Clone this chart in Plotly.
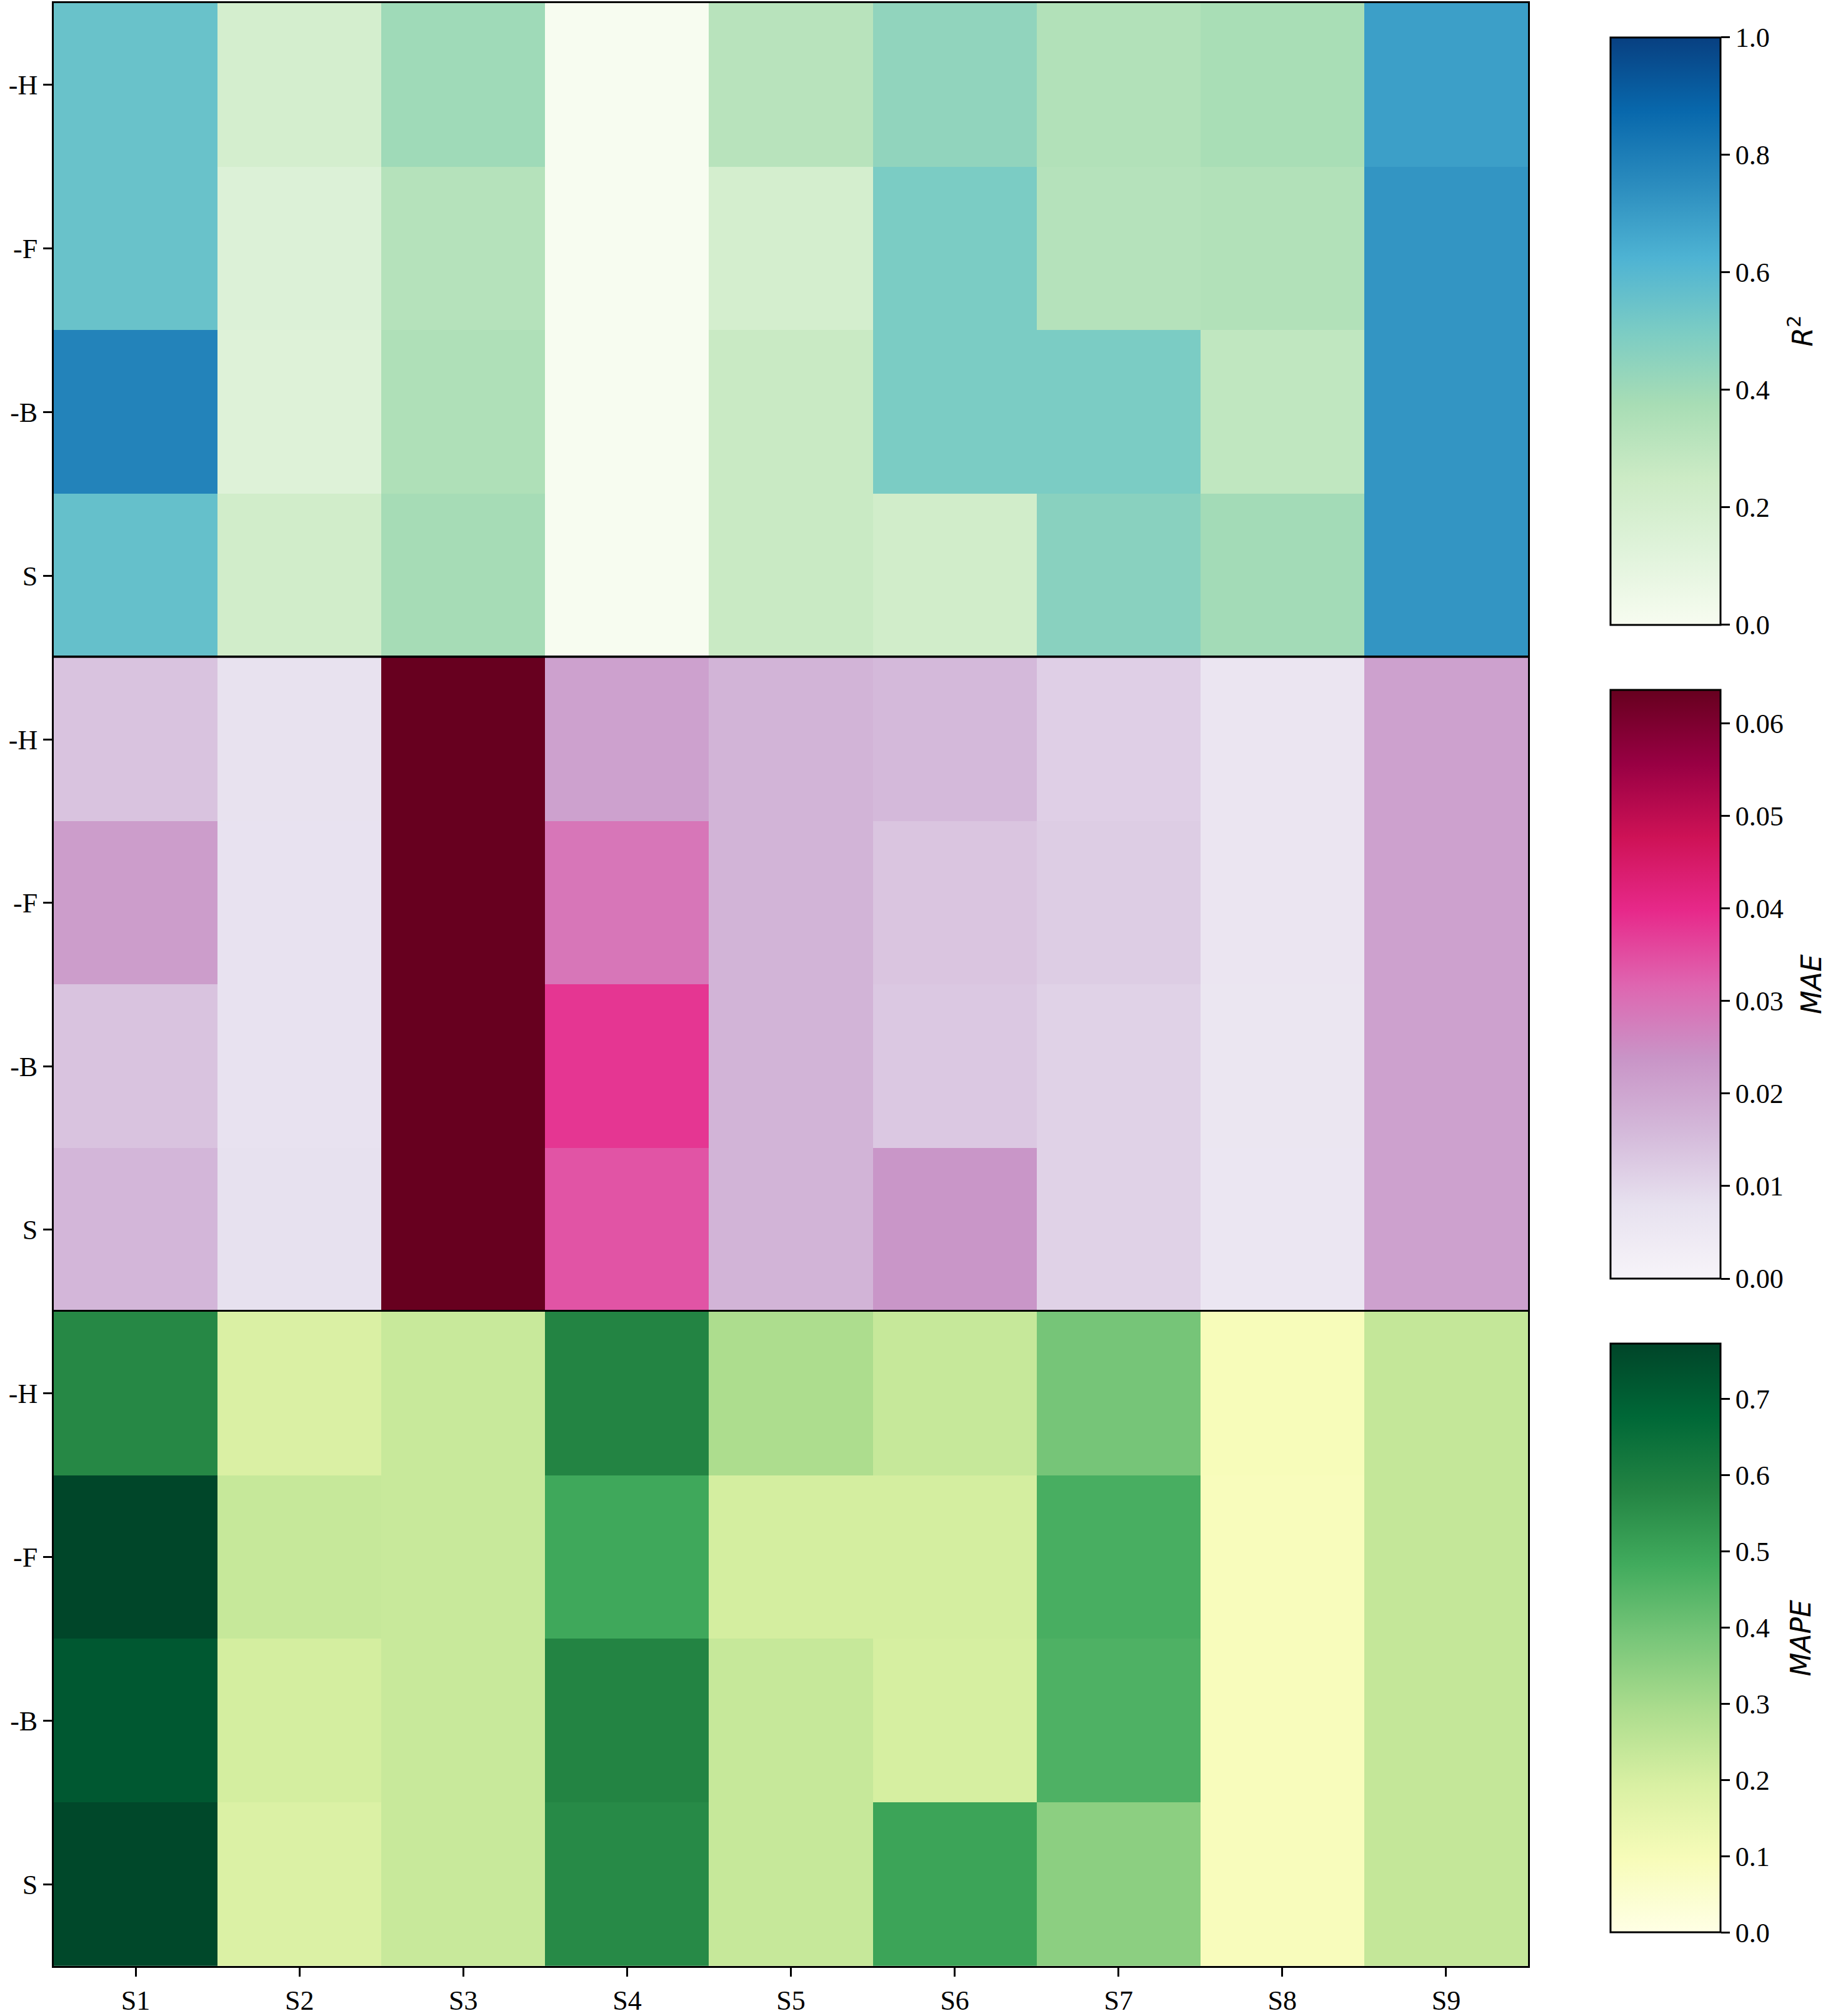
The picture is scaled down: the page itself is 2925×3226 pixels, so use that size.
import plotly.graph_objects as go
from plotly.subplots import make_subplots

models = ["S1", "S2", "S3", "S4", "S5", "S6", "S7", "S8", "S9"]
variants = ["-H", "-F", "-B", "S"]

# rows: -H, -F, -B, S ; columns: S1..S9
r2 = [
    [0.55, 0.20, 0.40, 0.00, 0.32, 0.44, 0.34, 0.37, 0.69],
    [0.55, 0.15, 0.33, 0.00, 0.20, 0.50, 0.33, 0.34, 0.72],
    [0.78, 0.14, 0.35, 0.00, 0.26, 0.50, 0.50, 0.29, 0.72],
    [0.56, 0.22, 0.38, 0.00, 0.26, 0.22, 0.46, 0.39, 0.72],
]
mae = [
    [0.0140, 0.0076, 0.0636, 0.0210, 0.0170, 0.0160, 0.0115, 0.0062, 0.0210],
    [0.0220, 0.0075, 0.0636, 0.0290, 0.0170, 0.0135, 0.0120, 0.0062, 0.0210],
    [0.0140, 0.0075, 0.0636, 0.0380, 0.0170, 0.0130, 0.0110, 0.0060, 0.0210],
    [0.0165, 0.0078, 0.0636, 0.0340, 0.0170, 0.0235, 0.0110, 0.0058, 0.0210],
]
mape = [
    [0.57, 0.19, 0.23, 0.58, 0.29, 0.235, 0.39, 0.095, 0.24],
    [0.77, 0.235, 0.23, 0.49, 0.205, 0.205, 0.47, 0.09, 0.24],
    [0.72, 0.205, 0.23, 0.58, 0.235, 0.20, 0.46, 0.09, 0.24],
    [0.765, 0.185, 0.23, 0.565, 0.235, 0.50, 0.35, 0.09, 0.24],
]
titles = ["<i>R</i><sup>2</sup>", "<i>MAE</i>", "<i>MAPE</i>"]

# figure fills the page exactly (body margin removed after plotting)
W, H = 2925, 3226


def fx(x):
    return min(1.0, max(0.0, x / W))


def fy(y):
    return min(1.0, max(0.0, 1 - y / H))


tickfont = dict(family="Liberation Serif", size=44, color="black")
titlefont = dict(family="DejaVu Sans", size=44, color="black")

fig = make_subplots(rows=3, cols=1, shared_xaxes=True, vertical_spacing=0)

panels = [
    (r2, "GnBu", 0.0, 1.0, 0.2, ".1f", (60, 1002), 2881),
    (mae, "PuRd", 0.0, 0.0636, 0.01, ".2f", (1107, 2051), 2898),
    (mape, "YlGn", 0.0, 0.772, 0.1, ".1f", (2156, 3100), 2881),
]

for i, (z, cs, zmin, zmax, dt, fmt, (cy0, cy1), tx) in enumerate(panels):
    fig.add_trace(
        go.Heatmap(
            z=z, x=models, y=variants, colorscale=cs, zmin=zmin, zmax=zmax,
            colorbar=dict(
                x=fx(2577), xanchor="left", xpad=0, ypad=0,
                y=(fy(cy0) + fy(cy1)) / 2, yanchor="middle",
                len=(cy1 - cy0) / H, lenmode="fraction",
                thickness=176, thicknessmode="pixels",
                outlinecolor="black", outlinewidth=3,
                ticks="outside", ticklen=14, tickwidth=3, tickcolor="black",
                tick0=0, dtick=dt, tickformat=fmt, tickfont=tickfont,
            ),
        ),
        row=i + 1, col=1,
    )
    fig.add_annotation(
        text=titles[i], xref="paper", yref="paper",
        x=fx(tx), y=(fy(cy0) + fy(cy1)) / 2, xanchor="center", yanchor="middle",
        textangle=-90, showarrow=False, font=titlefont, borderpad=0,
    )

# panel pixel boundaries (top, bottom) in screen pixels
bounds = [(5, 1055), (1055, 2104), (2104, 3154)]
x0, x1 = 86, 2445
for i, (t, b) in enumerate(bounds):
    ya = "yaxis" if i == 0 else f"yaxis{i+1}"
    xa = "xaxis" if i == 0 else f"xaxis{i+1}"
    fig.layout[ya].update(
        domain=[fy(b), fy(t)], autorange="reversed",
        showline=True, mirror=True, linecolor="black", linewidth=3,
        ticks="outside", ticklen=14, tickwidth=3, tickcolor="black",
        tickfont=tickfont, showgrid=False, zeroline=False,
    )
    fig.layout[xa].update(
        domain=[fx(x0), fx(x1)],
        showline=True, mirror=True, linecolor="black", linewidth=3,
        ticks="outside" if i == 2 else "", ticklen=14, tickwidth=3, tickcolor="black",
        tickfont=tickfont, showgrid=False, zeroline=False,
        showticklabels=(i == 2),
    )

fig.update_layout(
    width=W, height=H, margin=dict(l=0, r=0, t=0, b=0),
    paper_bgcolor="white", plot_bgcolor="white",
)

fig.write_html(
    "out.html",
    config={"displayModeBar": False},
    post_script=(
        "document.documentElement.style.margin='0';"
        "document.documentElement.style.overflow='hidden';"
        "document.body.style.margin='0';"
        "document.body.style.overflow='hidden';"
    ),
)
